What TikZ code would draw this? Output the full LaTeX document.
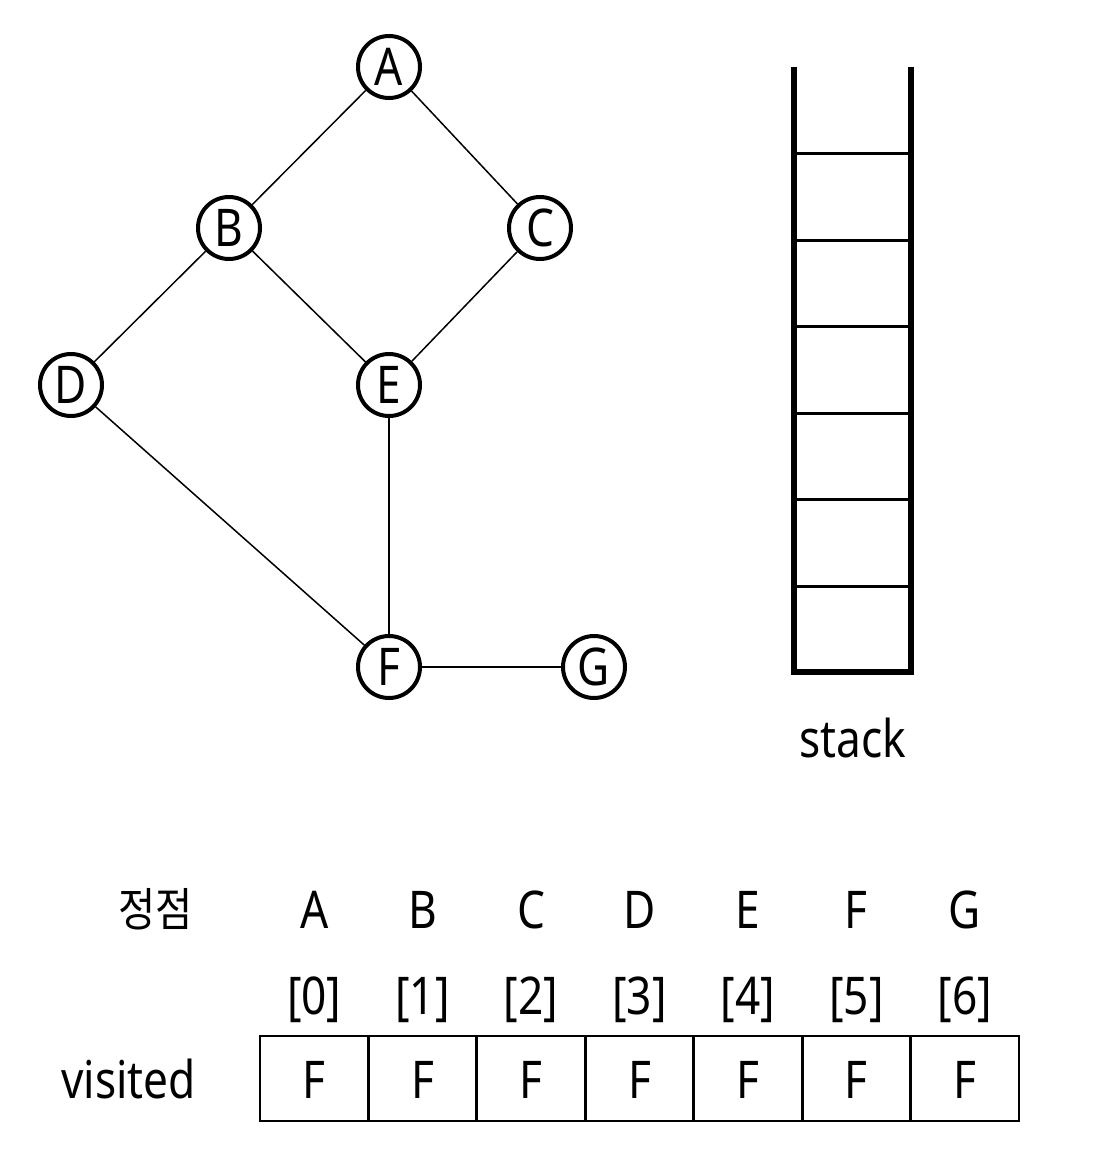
\documentclass[tikz,border=0pt]{standalone}
\usepackage{fontspec}
\setmainfont{Noto Sans}[FakeStretch=0.85]
\newfontfamily\krfont{Noto Sans CJK KR}[FakeStretch=0.88]
\begin{document}
\begin{tikzpicture}[x=1pt,y=-1pt,
  vert/.style={circle,draw,line width=4pt,minimum size=62pt,inner sep=0pt,font=\fontsize{52}{52}\selectfont},
  edge/.style={line width=1.5pt},
  lbl/.style={anchor=base,inner sep=0pt,font=\fontsize{52}{52}\selectfont},
  stackside/.style={line width=6.5pt},
  rung/.style={line width=3pt},
  cellline/.style={line width=2.8pt}]
\useasboundingbox (0,0) rectangle (1117,1167);
% graph
\node[vert] (A) at (389,67) {A};
\node[vert] (B) at (229,228) {B};
\node[vert] (C) at (540,228) {C};
\node[vert] (D) at (71,385) {D};
\node[vert] (E) at (389,385) {E};
\node[vert] (F) at (389,667) {F};
\node[vert] (G) at (594,667) {G};
\draw[edge] (A) -- (B);
\draw[edge] (A) -- (C);
\draw[edge] (B) -- (D);
\draw[edge] (B) -- (E);
\draw[edge] (C) -- (E);
\draw[edge] (D) -- (F);
\draw[edge] (E) -- (F);
\draw[edge] (F) -- (G);
% stack
\draw[stackside] (794,67) -- (794,672) -- (911,672) -- (911,67);
\foreach \yy in {153,240,326,413,499,586}
  \draw[rung] (794,\yy) -- (911,\yy);
\node[lbl] (stacklbl) at (852.5,757) {stack};
% table
\node[lbl,font=\krfont\fontsize{46}{46}\selectfont] (jj) at (155.5,926) {정점};
\node[lbl] (vis) at (128.5,1098) {visited};
\draw[cellline] (260,1036) rectangle (1019,1121);
\foreach \k in {1,...,6}
  \draw[cellline] ({260+108.43*\k},1036) -- ({260+108.43*\k},1121);
\foreach \n [count=\k from 0] in {A,B,C,D,E,F,G} {
  \node[lbl] (h\k) at ({314.2+108.43*\k},928) {\n};
  \node[lbl] (i\k) at ({314.2+108.43*\k},1014) {[\k]};
  \node[lbl] (v\k) at ({314.2+108.43*\k},1098) {F};
}
\end{tikzpicture}
\end{document}
